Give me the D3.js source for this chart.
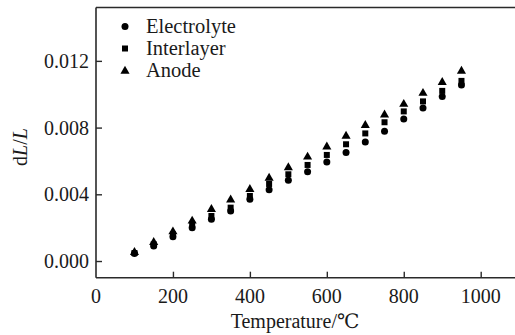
<!DOCTYPE html>
<html>
<head>
<meta charset="utf-8">
<script src="https://cdn.jsdelivr.net/npm/d3@7"></script>
<style>
  html, body { margin: 0; padding: 0; background: #fff; }
  svg { display: block; }
</style>
</head>
<body>
<svg id="chart" width="515" height="335"></svg>
<script>
const temperatures = [100,150,200,250,300,350,400,450,500,550,600,650,700,750,800,850,900,950];
const electrolyte = [0.00045,0.00090,0.00145,0.00200,0.00250,0.00300,0.00370,0.00428,0.00485,0.00535,0.00594,0.00650,0.00713,0.00778,0.00852,0.00917,0.00986,0.01056];
const interlayer  = [0.00048,0.00100,0.00160,0.00220,0.00270,0.00320,0.00390,0.00462,0.00520,0.00576,0.00636,0.00700,0.00765,0.00832,0.00897,0.00957,0.01020,0.01080];
const anode       = [0.00052,0.00112,0.00176,0.00240,0.00310,0.00367,0.00430,0.00497,0.00560,0.00624,0.00685,0.00749,0.00814,0.00877,0.00940,0.01006,0.01071,0.01139];
const seriesNames = ["Electrolyte","Interlayer","Anode"];
const xTicks = [200,400,600,800,1000];
const xTickLabels = ["0","200","400","600","800","1000"];
const yTicks = [0.000,0.004,0.008,0.012];
const yTickLabels = ["0.000","0.004","0.008","0.012"];

const FONT = "'Liberation Serif', 'Times New Roman', 'DejaVu Serif', serif";
const svg = d3.select("#chart").attr("font-family", FONT);
const padLeft = 96, padTop = 7.5, padBottom = 277.7;
const x = d3.scaleLinear().domain([0, 1100]).range([padLeft, padLeft + 1100 * 0.3847]);
const y = d3.scaleLinear().domain([-0.001, 0.0152]).range([padBottom, padTop]);

const axisColor = "#2a2a2a";
const textColor = "#1a1a1a";

// Frame: left, bottom, top
svg.append("line").attr("x1", padLeft).attr("x2", padLeft).attr("y1", padTop).attr("y2", padBottom)
  .attr("stroke", axisColor).attr("stroke-width", 1.6);
svg.append("line").attr("x1", padLeft).attr("x2", 515).attr("y1", padBottom).attr("y2", padBottom)
  .attr("stroke", axisColor).attr("stroke-width", 1.6);
svg.append("line").attr("x1", padLeft).attr("x2", 515).attr("y1", padTop).attr("y2", padTop)
  .attr("stroke", axisColor).attr("stroke-width", 1.6);

// X axis ticks (inward) and labels
const xAxis = d3.axisBottom(x).tickValues(xTicks).tickSize(-6).tickFormat("");
const gx = svg.append("g").attr("transform", `translate(0,${padBottom})`).call(xAxis);
gx.select(".domain").remove();
gx.selectAll(".tick line").attr("stroke", axisColor).attr("stroke-width", 1.4);
svg.append("g").selectAll("text").data([0].concat(xTicks)).join("text")
  .attr("font-family", FONT).attr("fill", textColor)
  .attr("x", d => x(d)).attr("y", 303)
  .attr("text-anchor", "middle").attr("font-size", 20)
  .text((d, i) => xTickLabels[i]);

// Y axis ticks (inward) and labels
const yAxis = d3.axisLeft(y).tickValues(yTicks).tickSize(-6).tickFormat("");
const gy = svg.append("g").attr("transform", `translate(${padLeft},0)`).call(yAxis);
gy.select(".domain").remove();
gy.selectAll(".tick line").attr("stroke", axisColor).attr("stroke-width", 1.4);
svg.append("g").selectAll("text").data(yTicks).join("text")
  .attr("font-family", FONT).attr("fill", textColor)
  .attr("x", 89).attr("y", d => y(d)).attr("dy", "0.35em")
  .attr("text-anchor", "end").attr("font-size", 20)
  .text((d, i) => yTickLabels[i]);

// Axis titles
svg.append("text").attr("font-family", FONT).attr("fill", textColor)
  .attr("x", 295).attr("y", 328).attr("text-anchor", "middle")
  .attr("font-size", 20).text("Temperature/℃");
const yl = svg.append("text").attr("font-family", FONT).attr("fill", textColor)
  .attr("transform", "translate(27,147) rotate(-90)")
  .attr("text-anchor", "middle").attr("font-size", 20);
yl.append("tspan").text("d");
yl.append("tspan").attr("font-style", "italic").text("L");
yl.append("tspan").text("/");
yl.append("tspan").attr("font-style", "italic").text("L");

// Markers
const tri = d3.symbol().type(d3.symbolTriangle).size(36);
function drawMarker(g, kind, cx, cy) {
  if (kind === 0) {
    g.append("circle").attr("cx", cx).attr("cy", cy).attr("r", 3.5).attr("fill", "#000");
  } else if (kind === 1) {
    g.append("rect").attr("x", cx - 3).attr("y", cy - 3).attr("width", 6).attr("height", 6).attr("fill", "#000");
  } else {
    g.append("path").attr("d", tri()).attr("transform", `translate(${cx},${cy})`).attr("fill", "#000");
  }
}

const allSeries = [electrolyte, interlayer, anode];
const gp = svg.append("g");
allSeries.forEach((vals, k) => {
  vals.forEach((v, i) => drawMarker(gp, k, x(temperatures[i]), y(v)));
});

// Legend
const legendY = [26.5, 48.5, 71];
const gl = svg.append("g");
seriesNames.forEach((name, k) => {
  drawMarker(gl, k, 125, legendY[k]);
  gl.append("text").attr("font-family", FONT).attr("fill", textColor)
    .attr("x", 146).attr("y", legendY[k]).attr("dy", "0.3em")
    .attr("font-size", 20.5).text(name);
});
</script>
</body>
</html>
